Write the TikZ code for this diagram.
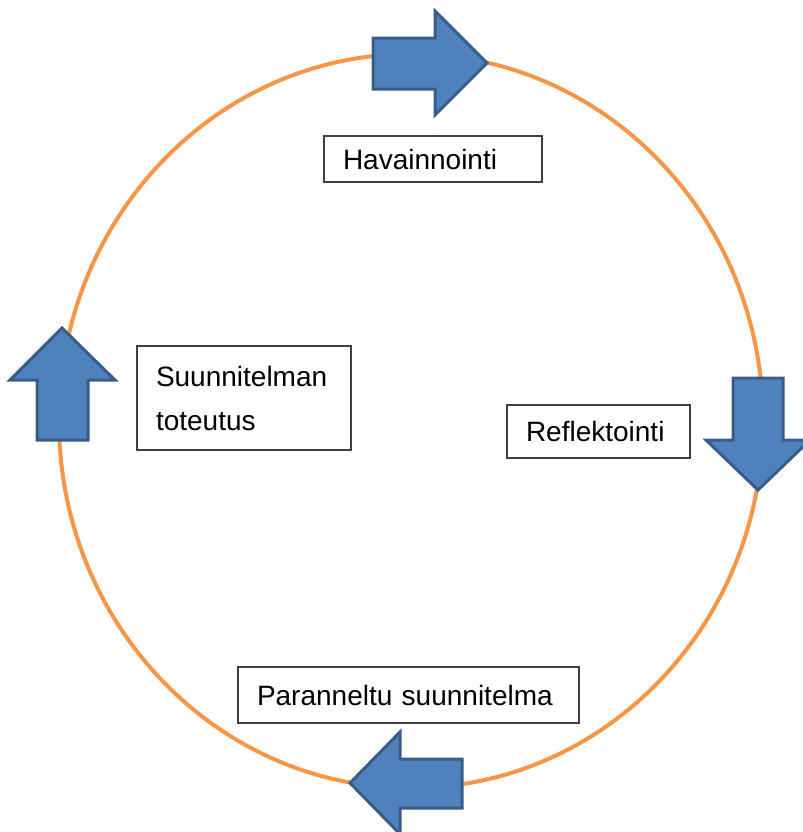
\documentclass[tikz,border=0pt]{standalone}
\usepackage{fontspec}
\setmainfont{Liberation Sans}
\definecolor{ringorange}{HTML}{F79646}
\definecolor{arrowfill}{HTML}{4F81BD}
\definecolor{arrowline}{HTML}{385D8A}

\begin{document}
\begin{tikzpicture}[x=0.5pt, y=-0.5pt,
  ring/.style={draw=ringorange, line width=2pt},
  blockarrow/.style={fill=arrowfill, draw=arrowline, line width=1.5pt, line join=miter},
  stage/.style={rectangle, draw=black!75, line width=0.7pt, inner xsep=9.5pt, inner ysep=0pt, align=left, font=\fontsize{14}{22}\selectfont}]
  \useasboundingbox (0,0) rectangle (803,832);

  % the cycle
  \draw[ring] (411,421) ellipse [x radius=176pt, y radius=183.5pt];

  % arrows on the cycle
  \draw[blockarrow] (373,38) -- (435,38) -- (435,11) -- (487,63) -- (435,115) -- (435,89) -- (373,89) -- cycle;
  \draw[blockarrow] (733,378) -- (783,378) -- (783,440) -- (810,440) -- (758,490) -- (706,440) -- (733,440) -- cycle;
  \draw[blockarrow] (462,759) -- (462,808) -- (400,808) -- (400,834) -- (350,783) -- (400,732) -- (400,759) -- cycle;
  \draw[blockarrow] (37,440) -- (88,440) -- (88,380) -- (115,380) -- (62,328) -- (10,380) -- (37,380) -- cycle;

  \node[stage, text width=90pt, minimum height=23pt] (obs) at (433,159) {Havainnointi};
  \node[stage, text width=72.5pt, minimum height=26.5pt] (refl) at (598.5,431.5) {Reflektointi};
  \node[stage, text width=151.5pt, minimum height=28pt] (plan) at (408.5,695) {Paranneltu suunnitelma};
  \node[stage, text width=88pt, minimum height=52pt] (impl) at (244,398) {Suunnitelman\\toteutus};
\end{tikzpicture}
\end{document}
